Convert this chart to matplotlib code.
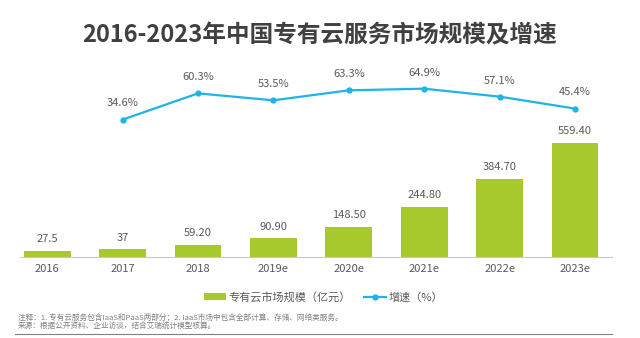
import matplotlib.pyplot as plt
import numpy as np

plt.rcParams['font.family'] = ['Noto Sans CJK SC', 'DejaVu Sans']

years = ["2016", "2017", "2018", "2019e", "2020e", "2021e", "2022e", "2023e"]
market = [27.5, 37, 59.20, 90.90, 148.50, 244.80, 384.70, 559.40]
market_labels = ["27.5", "37", "59.20", "90.90", "148.50", "244.80", "384.70", "559.40"]
growth_years = ["2017", "2018", "2019e", "2020e", "2021e", "2022e", "2023e"]
growth = [34.6, 60.3, 53.5, 63.3, 64.9, 57.1, 45.4]

green = "#A8C92E"
blue = "#1DB5E6"
grey = "#595959"

fig = plt.figure(figsize=(6.4, 3.38), dpi=100)
ax = fig.add_axes([20 / 640, 81 / 338, 592 / 640, 197 / 338])

x = np.arange(len(years))
bars = ax.bar(x, market, width=0.62, color=green, zorder=2)
for xi, v, s in zip(x, market, market_labels):
    ax.annotate(s, (xi, v), xytext=(0, 5), textcoords="offset points",
                ha="center", va="bottom", fontsize=8, color=grey)

ax.set_xlim(-0.36, 7.49)
ax.set_ylim(0, 966)
ax.set_xticks(x)
ax.set_xticklabels(years, fontsize=8, color=grey)
ax.tick_params(axis="x", length=0, pad=5)
ax.set_yticks([])
for s in ["top", "right", "left"]:
    ax.spines[s].set_visible(False)
ax.spines["bottom"].set_color("#C8C8C8")

ax2 = ax.twinx()
gx = [years.index(y) for y in growth_years]
line, = ax2.plot(gx, growth, color=blue, lw=1.6, marker="o", ms=3.5, zorder=3)
for xi, v in zip(gx, growth):
    ax2.annotate(f"{v}%", (xi, v), xytext=(0, 8), textcoords="offset points",
                 ha="center", va="bottom", fontsize=8, color=grey)
ax2.set_ylim(-100, 93)
ax2.set_yticks([])
for s in ["top", "right", "left", "bottom"]:
    ax2.spines[s].set_visible(False)

fig.text(0.5, 1 - 35 / 338, "2016-2023年中国专有云服务市场规模及增速", ha="center", va="center",
         fontsize=17, fontweight="bold", color="#404040")

fig.legend([bars, line], ["专有云市场规模（亿元）", "增速（%）"], loc="center",
           bbox_to_anchor=(0.505, 1 - 297 / 338), ncol=2, frameon=False, fontsize=8,
           labelcolor=grey, handlelength=2.0, columnspacing=1.2, handletextpad=0.2)

fig.text(18 / 640, 1 - 318 / 338, "注释：1. 专有云服务包含IaaS和PaaS两部分；2. IaaS市场中包含全部计算、存储、网络类服务。",
         fontsize=5.5, color="#808080", va="center")
fig.text(18 / 640, 1 - 327 / 338, "来源：根据公开资料、企业访谈，结合艾瑞统计模型核算。",
         fontsize=5.5, color="#808080", va="center")
fig.add_artist(plt.Line2D([15 / 640, 612 / 640], [1 - 334 / 338] * 2, color="#808080", lw=0.8))

fig.savefig("out.png", dpi=100, facecolor="white")
